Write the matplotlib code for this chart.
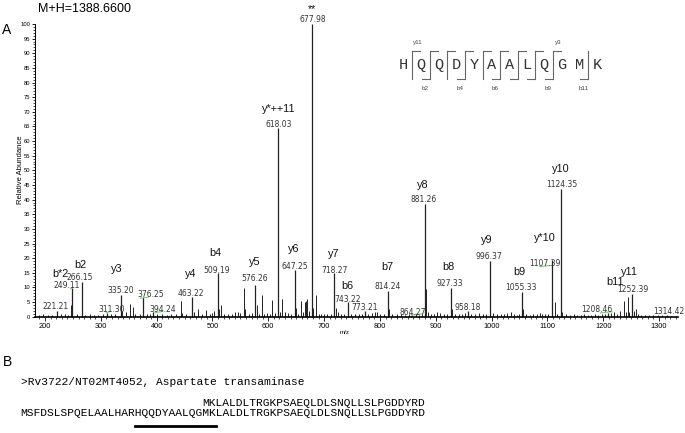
import matplotlib.pyplot as plt
from matplotlib.ticker import MultipleLocator

plt.rcParams['font.family'] = ['Liberation Sans', 'DejaVu Sans']

# Labelled peaks: m/z and relative abundance (%)
peak_mz = [221.21, 249.11, 266.15, 311.30, 335.20, 376.25, 394.24, 463.22,
           509.19, 576.26, 618.03, 647.25, 677.98, 718.27, 743.22, 773.21,
           814.24, 864.27, 881.26, 927.33, 958.18, 996.37, 1055.33, 1107.39,
           1124.35, 1208.46, 1252.39, 1314.42]
peak_int = [2.0, 9.7, 12.0, 1.2, 7.4, 6.6, 1.5, 6.8,
            14.8, 11.0, 64.3, 15.8, 100.0, 14.8, 4.9, 1.8,
            8.9, 1.0, 38.5, 9.8, 2.0, 19.2, 8.6, 19.4,
            43.7, 1.2, 7.8, 0.7]

# Unlabelled peaks
minor_mz = [190, 197, 205, 212, 228, 236, 241, 246, 247, 258, 272, 280, 288, 295,
            303, 318, 326, 337, 345, 353, 357, 362, 370, 383, 388, 401, 410, 418,
            426, 434, 443, 446, 452, 466, 474, 481, 489, 495, 499, 503,
            512, 515, 520, 528, 535, 540, 545, 550, 555.6, 558, 565, 570, 579,
            583, 587.8, 592, 598, 603, 607.5, 612, 621, 625.4, 630, 636, 641,
            650, 653, 658, 662, 665, 668, 670, 673, 680, 685, 690, 695, 700,
            705, 712, 721, 725, 731, 736, 748, 755, 762, 768, 779, 786, 792,
            795, 800, 807, 817, 822, 830, 838, 845, 852, 858, 870, 875, 882.5,
            886, 891, 897, 903, 908, 914, 920, 929, 935, 941, 947, 953, 964,
            971, 978, 985, 990, 998, 1003, 1010, 1016, 1022, 1028, 1034, 1040,
            1046, 1050, 1057, 1062, 1068, 1075, 1081, 1086, 1091, 1096, 1101,
            1108.5, 1113, 1118, 1127, 1133, 1140, 1147, 1153, 1160, 1166, 1172,
            1178, 1185, 1191, 1198, 1203, 1214, 1219, 1225, 1230, 1236.6, 1240,
            1243.7, 1247, 1255, 1258, 1262, 1268, 1275, 1282, 1290, 1298, 1306,
            1322, 1330]
minor_int = [0.5, 0.8, 0.6, 0.7, 0.8, 1.0, 0.7, 1.2, 4.0, 0.8, 0.6, 0.8, 0.6, 0.7,
             0.8, 0.8, 1.0, 2.0, 1.5, 4.2, 3.4, 1.0, 0.9, 1.0, 0.8, 0.8, 0.9, 0.7,
             1.0, 0.8, 5.5, 1.2, 0.8, 1.5, 2.5, 1.0, 2.3, 1.0, 1.2, 2.0,
             2.5, 4.1, 1.0, 0.8, 1.0, 1.5, 1.5, 1.2, 9.8, 2.5, 1.0, 1.2, 4.0,
             1.0, 7.4, 1.0, 1.2, 1.0, 5.8, 1.2, 1.5, 6.2, 1.5, 1.2, 1.0,
             3.0, 1.0, 5.5, 1.5, 4.9, 5.5, 6.0, 2.0, 3.0, 7.4, 1.0, 0.8, 0.8,
             0.8, 1.0, 3.0, 1.5, 0.8, 1.0, 1.0, 0.8, 1.0, 0.9, 1.0, 1.2, 1.5,
             1.5, 0.8, 0.8, 2.5, 0.8, 0.8, 0.9, 0.7, 0.8, 0.6, 0.7, 1.0, 9.6,
             1.5, 0.8, 1.0, 1.5, 1.2, 0.8, 1.0, 2.5, 0.8, 1.0, 0.8, 1.2, 0.8,
             0.9, 1.2, 0.8, 1.0, 6.8, 1.2, 1.0, 0.8, 1.0, 1.2, 1.5, 0.8,
             0.7, 1.0, 2.5, 0.8, 0.7, 0.8, 1.0, 1.2, 0.9, 0.8, 1.0,
             6.6, 4.9, 1.0, 1.5, 0.8, 0.7, 0.8, 0.6, 0.7, 0.8, 0.6,
             0.7, 0.8, 0.7, 0.8, 1.0, 1.2, 1.5, 1.0, 2.0, 5.5, 1.5,
             6.8, 1.5, 2.0, 2.7, 0.8, 0.5, 0.6, 0.5, 0.6, 0.5, 0.5,
             0.4, 0.4]

# Where each m/z label sits (centre, data coords), same order as peak_mz
mz_label_x = [219, 238, 262, 320, 336, 390, 410, 461, 508, 575, 619, 647, 679,
              718, 742, 773, 814, 858, 879, 926, 957, 995, 1053, 1096, 1125,
              1188, 1253, 1318]
mz_label_y = [3.4, 10.8, 13.4, 2.5, 8.9, 7.6, 2.5, 7.9, 15.9, 12.9, 65.6, 17.1,
              101.5, 15.9, 6.0, 3.2, 10.2, 1.4, 40.0, 11.2, 3.2, 20.5, 10.0,
              18.2, 45.3, 2.4, 9.2, 1.8]

# Fragment ion names and where they are written
ion_names = ['b*2', 'b2', 'y3', 'y4', 'b4', 'y5', 'y*++11', 'y6', '**', 'y7', 'b6',
             'b7', 'y8', 'b8', 'y9', 'b9', 'y*10', 'y10', 'b11', 'y11']
ion_x = [227, 263, 328, 461, 506, 576, 618, 646, 678, 717, 741,
         813, 877, 923, 991, 1050, 1095, 1124, 1221, 1247]
ion_y = [14.6, 17.6, 16.2, 14.6, 21.9, 18.7, 71.1, 23.2, 105.2, 21.5, 10.5,
         16.9, 45.0, 17.1, 26.2, 15.4, 26.8, 50.3, 12.0, 15.4]

# Small green marks under some labels: (x start, x end, y)
green_marks = [(246, 252, 9.6), (310, 317, 1.4), (371, 385, 6.3), (397, 411, 1.4),
               (856, 876, 0.6), (1086, 1106, 17.1), (1195, 1216, 1.3)]

# Peptide fragment map
peptide = list('HQQDYAALQGMK')
b_seen = [2, 4, 6, 7, 8, 9, 11]
y_seen = [3, 4, 5, 6, 7, 8, 9, 10, 11]
b_named = [2, 4, 6, 9, 11]
y_named = [3, 11]

header = '>Rv3722/NT02MT4052, Aspartate transaminase'
seq_short = 'MKLALDLTRGKPSAEQLDLSNQLLSLPGDDYRD'
seq_full = 'MSFDSLSPQELAALHARHQQDYAALQGMKLALDLTRGKPSAEQLDLSNQLLSLPGDDYRD'
underline_from, underline_to = 17, 29

W, H = 685, 433
fig = plt.figure(figsize=(W / 100, H / 100), dpi=100)

ax = fig.add_axes([35 / W, 1 - 316.7 / H, (678 - 35) / W, (316.7 - 24) / H])
ax.vlines(minor_mz, 0, minor_int, color='#222222', lw=0.7)
ax.vlines(peak_mz, 0, peak_int, color='#222222', lw=0.9, clip_on=False)
ax.set_xlim(182, 1334)
ax.set_ylim(0, 100)

for lab, x, y in zip(peak_mz, mz_label_x, mz_label_y):
    ax.text(x, y, f'{lab:.2f}', ha='center', va='center', fontsize=5.5,
            family='DejaVu Sans', color='#333333')
for name, x, y in zip(ion_names, ion_x, ion_y):
    ax.text(x, y, name, ha='center', va='center', fontsize=7.8, color='#111111')
for x0, x1, y in green_marks:
    ax.plot([x0, x1], [y, y + 0.4], color='#77cc77', lw=0.8, clip_on=False)

for side in ['top', 'right']:
    ax.spines[side].set_visible(False)
ax.spines['left'].set_linewidth(0.7)
ax.spines['bottom'].set_linewidth(1.2)
ax.xaxis.set_major_locator(MultipleLocator(100))
ax.xaxis.set_minor_locator(MultipleLocator(10))
ax.yaxis.set_major_locator(MultipleLocator(5))
ax.yaxis.set_minor_locator(MultipleLocator(1))
ax.tick_params(axis='x', which='major', length=3, width=0.6, labelsize=5.3, pad=1.5)
ax.tick_params(axis='x', which='minor', length=1.5, width=0.5)
ax.tick_params(axis='y', which='major', length=2.5, width=0.6, labelsize=4.2, pad=0.8)
ax.tick_params(axis='y', which='minor', length=1.3, width=0.5)

# overlay in pixel coordinates for the text parts
ov = fig.add_axes([0, 0, 1, 1])
ov.set_xlim(0, W)
ov.set_ylim(H, 0)
ov.axis('off')

ov.text(85, 8.5, 'M+H=1388.6600', ha='center', va='center', fontsize=9)
ov.text(7, 30, 'A', ha='center', va='center', fontsize=10)
ov.text(21, 170, 'Relative Abundance', rotation=90, ha='center', va='center', fontsize=5.5)
ov.text(345, 333, 'm/z', ha='center', va='center', fontsize=4.5)

# fragment map
x0, step = 403.5, 17.6
for i, aa in enumerate(peptide):
    ov.text(x0 + i * step, 65, aa, ha='center', va='center', fontsize=11,
            family='Liberation Mono', color='#333333')
for k in range(1, len(peptide)):
    sx = x0 + (k - 0.5) * step
    has_b = k in b_seen
    has_y = (len(peptide) - k) in y_seen
    if not (has_b or has_y):
        continue
    ov.plot([sx, sx], [51, 79], color='#666666', lw=0.8)
    if has_y:
        ov.plot([sx, sx + 8], [51, 51], color='#666666', lw=0.8)
        if (len(peptide) - k) in y_named:
            ov.text(sx + 5, 42.5, f'y{len(peptide) - k}', ha='center', va='center',
                    fontsize=4.5, color='#444444')
    if has_b:
        ov.plot([sx - 8, sx], [79, 79], color='#666666', lw=0.8)
        if k in b_named:
            ov.text(sx - 5, 89, f'b{k}', ha='center', va='center',
                    fontsize=4.5, color='#444444')

# part B
ov.text(8, 362, 'B', ha='center', va='center', fontsize=10)
cw = 6.73
ov.text(20.7, 381.7, header, ha='left', va='center', fontsize=8.1,
        family='Liberation Mono')
ov.text(20.7 + 27 * cw, 402.7, seq_short, ha='left', va='center', fontsize=8.1,
        family='Liberation Mono')
ov.text(20.7, 413.3, seq_full, ha='left', va='center', fontsize=8.1,
        family='Liberation Mono')
ov.plot([20.7 + underline_from * cw, 20.7 + underline_to * cw], [425.7, 425.7],
        color='black', lw=2)

fig.savefig('out.png', dpi=100)
